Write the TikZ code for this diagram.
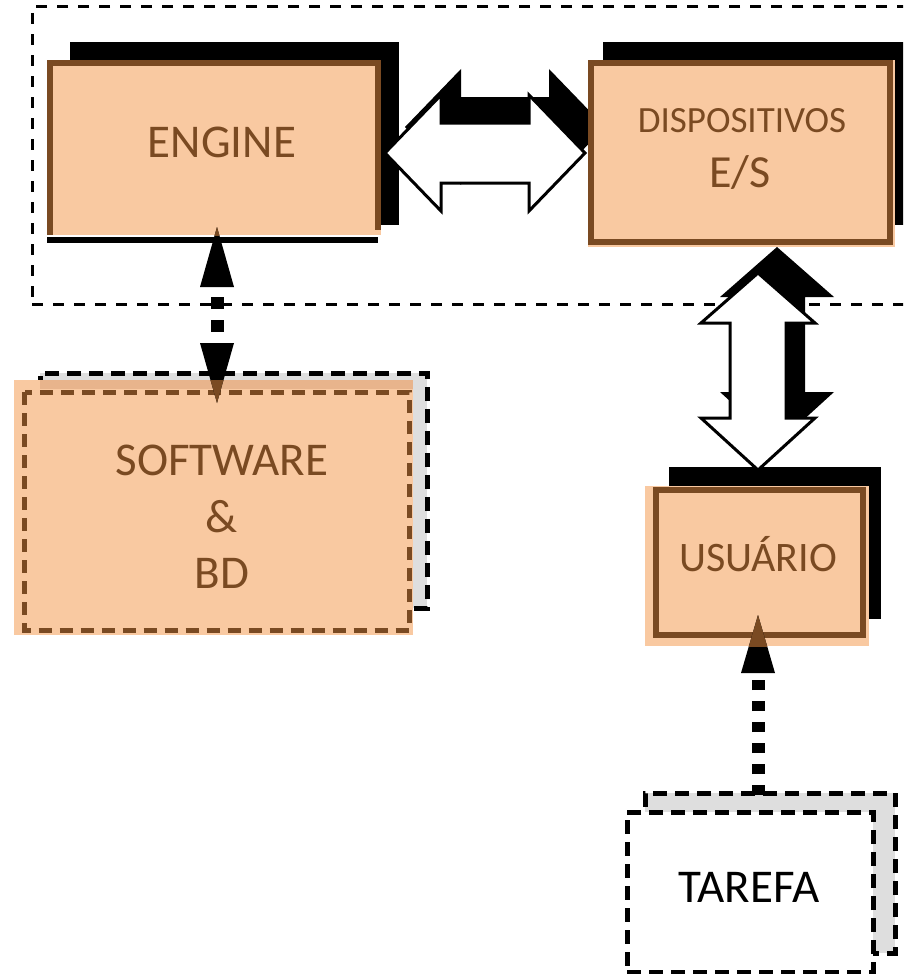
\documentclass[tikz,border=0pt]{standalone}
\usepackage{fontspec}
\setmainfont{Carlito}
\usetikzlibrary{arrows.meta,calc,fit}
\definecolor{peach}{HTML}{F9C9A1}
\definecolor{peachdk}{HTML}{E8B48C}
\definecolor{umber}{HTML}{7A4A22}
\definecolor{shade}{HTML}{DEDEDE}
\newcommand{\fs}[1]{\fontsize{#1}{#1}\selectfont}

\begin{document}
\begin{tikzpicture}[x=1pt,y=-1pt,
  plate/.style={inner sep=0pt,outer sep=0pt},
  darkplate/.style={plate,fill=black},
  peachplate/.style={plate,fill=peach},
  rim/.style={draw=umber,line width=6pt},
  dashedge/.style={draw=black,line width=5pt,dash pattern=on 14pt off 8pt},
  umberedge/.style={draw=umber,line width=5pt,dash pattern=on 13pt off 8pt},
  zonedash/.style={draw=black,line width=3pt,dash pattern=on 11pt off 10pt},
  blockarrow/.style={fill=white,draw=black,line width=3pt,line join=miter},
  blockshade/.style={fill=black},
  lbl/.style={anchor=base,inner sep=0pt,text=umber},
  link/.style={line width=13pt},
]
\useasboundingbox (0,0) rectangle (903,974);
\clip (0,0) rectangle (903,974);

% system boundary
\node[plate,zonedash,fit={(32,7) (920,304)}] (system) {};

% shadows of the solid boxes
\node[darkplate,fit={(70,42) (399,225)}] (engineShadow) {};
\node[darkplate,fit={(603,42) (920,225)}] (ioShadow) {};
\node[darkplate,fit={(669,467) (881,619)}] (userShadow) {};

% ---- block arrows (shadow first, then the white arrow) ----
\coordinate (hL) at (385,153);
\coordinate (hR) at (585,153);
\coordinate (vT) at (758,273);
\coordinate (vB) at (758,470);

\fill[blockshade] ($(hL)+(20,-26)$) -- ++(56,-58) -- ++(0,28) -- ($(hR)+(-36,-56)$)
  -- ++(0,-28) -- ($(hR)+(20,-26)$) -- ++(-56,58) -- ++(0,-28) -- ($(hL)+(76,4)$)
  -- ++(0,28) -- cycle;
\path[blockarrow] (hL) -- ++(56,-58) -- ++(0,28) -- ($(hR)+(-56,-30)$) -- ++(0,-28)
  -- (hR) -- ++(-56,58) -- ++(0,-28) -- ($(hL)+(56,30)$) -- ++(0,28) -- cycle;

\fill[blockshade] ($(vT)+(19,-26)$) -- ++(57,50) -- ++(-29,0) -- ($(vB)+(47,-78)$)
  -- ++(29,0) -- ($(vB)+(19,-26)$) -- ++(-57,-52) -- ++(29,0) -- ($(vT)+(-9,24)$)
  -- ++(-29,0) -- cycle;
\path[blockarrow] (vT) -- ++(57,50) -- ++(-29,0) -- ($(vB)+(28,-52)$) -- ++(29,0)
  -- (vB) -- ++(-57,-52) -- ++(29,0) -- ($(vT)+(-28,50)$) -- ++(-29,0) -- cycle;

% ---- ENGINE ----
\draw[line width=5.5pt] (47,240) -- (378,240);
\node[peachplate,fit={(47,60) (381,235)}] (engine) {};
\draw[rim] (49.5,235) -- (49.5,63.5) -- (378,63.5) -- (378,230);
\node[lbl,font=\fs{47}] (engineT) at (222,157) {ENGINE};

% ---- DISPOSITIVOS E/S ----
\node[peachplate,fit={(588,60) (895,247)}] (io) {};
\draw[rim] (590.5,63.5) rectangle (890,241.5);
\node[lbl,font=\fs{37}] (ioT1) at (742,132) {DISPOSITIVOS};
\node[lbl,font=\fs{46}] (ioT2) at (740,187) {E/S};

% ---- USUÁRIO ----
\node[peachplate,fit={(645,486) (869,646)}] (user) {};
\draw[rim] (656,490) rectangle (863,634.5);
\node[lbl,font=\fs{42}] (userT) at (758,571) {USUÁRIO};

% ---- SOFTWARE & BD ----
\node[plate,fill=shade,dashedge,fit={(40,373) (427,608)}] (swShadow) {};
\node[peachplate,fit={(14,380) (413,635)}] (sw) {};
\fill[peachdk] (40,380) rectangle (413,389);
\draw[umberedge] (24.5,392) rectangle (409.5,630);
\node[lbl,font=\fs{47}] (swT1) at (222,475) {SOFTWARE};
\node[lbl,font=\fs{47}] (swT2) at (222,532) {\&};
\node[lbl,font=\fs{47}] (swT3) at (222,588) {BD};

% ---- TAREFA ----
\node[plate,fill=shade,dashedge,fit={(645,793) (895,953)}] (taskShadow) {};
\node[plate,fill=white,dashedge,fit={(627,812) (873,972)}] (task) {};
\node[lbl,text=black,font=\fs{47}] (taskT) at (749,902) {TAREFA};

% ---- dashed connectors ----
\coordinate (e1) at ($(engine.south)+(3,-8)$);
\coordinate (s1) at ($(sw.north)+(3.5,23)$);
\draw[link,dash pattern=on 12pt off 11pt,dash phase=13pt,{Triangle[width=34pt,length=60pt,line width=0pt]}-{Triangle[width=34pt,length=60pt,line width=0pt]}] (e1) -- (s1);
\begin{scope}
  \clip (engine.south west) rectangle (engine.north east);
  \draw[link,umber,dash pattern=on 12pt off 11pt,dash phase=13pt,{Triangle[width=34pt,length=60pt,line width=0pt]}-{Triangle[width=34pt,length=60pt,line width=0pt]}] (e1) -- (s1);
\end{scope}
\begin{scope}
  \clip (sw.south west) rectangle (sw.north east);
  \draw[link,umber,dash pattern=on 12pt off 11pt,dash phase=13pt,{Triangle[width=34pt,length=60pt,line width=0pt]}-{Triangle[width=34pt,length=60pt,line width=0pt]}] (e1) -- (s1);
\end{scope}

\coordinate (t1) at ($(task.north)+(8,-17)$);
\coordinate (u1) at ($(user.south)+(1,-31)$);
\draw[link,dash pattern=on 10pt off 11pt,-{Triangle[width=34pt,length=58pt,line width=0pt]}] (t1) -- (u1);
\begin{scope}
  \clip (user.south west) rectangle (user.north east);
  \draw[link,umber,dash pattern=on 10pt off 11pt,-{Triangle[width=34pt,length=58pt,line width=0pt]}] (t1) -- (u1);
\end{scope}
\end{tikzpicture}
\end{document}
